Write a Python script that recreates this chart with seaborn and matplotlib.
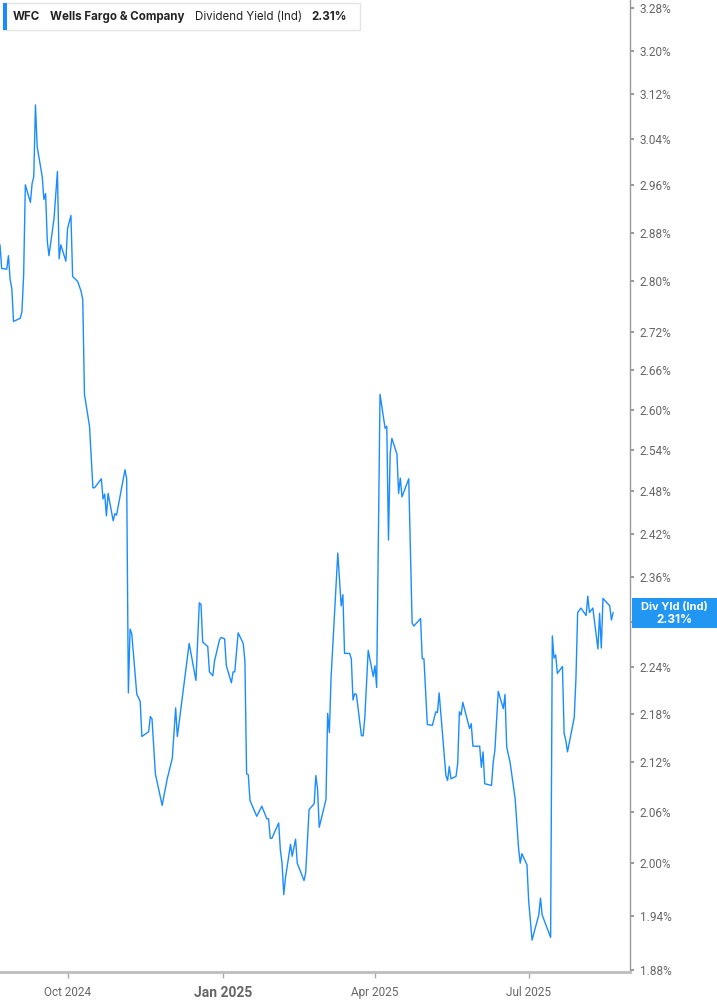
import matplotlib
matplotlib.use("Agg")
import matplotlib.pyplot as plt
from matplotlib import font_manager
from matplotlib.patches import Rectangle
from matplotlib.ticker import FixedLocator, FixedFormatter, NullLocator
import pandas as pd
import seaborn as sns

# WFC indicated dividend yield (%)
dates = [
    "2024-08-22", "2024-08-23", "2024-08-26", "2024-08-27", "2024-08-28", "2024-08-29", "2024-08-30",
    "2024-09-03", "2024-09-04", "2024-09-05", "2024-09-06", "2024-09-09", "2024-09-10", "2024-09-11",
    "2024-09-12", "2024-09-13", "2024-09-16", "2024-09-17", "2024-09-18", "2024-09-19", "2024-09-20",
    "2024-09-23", "2024-09-25", "2024-09-26", "2024-09-27", "2024-09-30", "2024-10-01", "2024-10-03",
    "2024-10-04", "2024-10-07", "2024-10-09", "2024-10-10", "2024-10-11", "2024-10-14", "2024-10-16",
    "2024-10-17", "2024-10-21", "2024-10-22", "2024-10-23", "2024-10-24", "2024-10-25", "2024-10-28",
    "2024-10-29", "2024-10-30", "2024-11-04", "2024-11-05", "2024-11-06", "2024-11-07", "2024-11-08",
    "2024-11-11", "2024-11-12", "2024-11-13", "2024-11-14", "2024-11-18", "2024-11-19", "2024-11-20",
    "2024-11-22", "2024-11-26", "2024-11-29", "2024-12-02", "2024-12-04", "2024-12-05", "2024-12-09",
    "2024-12-12", "2024-12-16", "2024-12-18", "2024-12-19", "2024-12-20", "2024-12-23", "2024-12-24",
    "2024-12-26", "2024-12-27", "2024-12-30", "2024-12-31", "2025-01-02", "2025-01-03", "2025-01-06",
    "2025-01-07", "2025-01-08", "2025-01-10", "2025-01-13", "2025-01-14", "2025-01-15", "2025-01-16",
    "2025-01-17", "2025-01-21", "2025-01-24", "2025-01-27", "2025-01-28", "2025-01-29", "2025-01-30",
    "2025-02-03", "2025-02-04", "2025-02-05", "2025-02-06", "2025-02-07", "2025-02-10", "2025-02-11",
    "2025-02-13", "2025-02-14", "2025-02-18", "2025-02-19", "2025-02-21", "2025-02-24", "2025-02-25",
    "2025-02-26", "2025-02-27", "2025-03-03", "2025-03-04", "2025-03-05", "2025-03-06", "2025-03-10",
    "2025-03-12", "2025-03-13", "2025-03-14", "2025-03-17", "2025-03-18", "2025-03-19", "2025-03-20",
    "2025-03-21", "2025-03-24", "2025-03-25", "2025-03-26", "2025-03-28", "2025-03-31", "2025-04-01",
    "2025-04-02", "2025-04-04", "2025-04-07", "2025-04-08", "2025-04-09", "2025-04-10", "2025-04-11",
    "2025-04-14", "2025-04-15", "2025-04-16", "2025-04-17", "2025-04-21", "2025-04-23", "2025-04-24",
    "2025-04-28", "2025-04-29", "2025-04-30", "2025-05-02", "2025-05-05", "2025-05-07", "2025-05-08",
    "2025-05-09", "2025-05-13", "2025-05-14", "2025-05-15", "2025-05-16", "2025-05-19", "2025-05-20",
    "2025-05-21", "2025-05-22", "2025-05-23", "2025-05-27", "2025-05-28", "2025-05-29", "2025-06-02",
    "2025-06-03", "2025-06-04", "2025-06-05", "2025-06-09", "2025-06-10", "2025-06-11", "2025-06-13",
    "2025-06-16", "2025-06-17", "2025-06-18", "2025-06-20", "2025-06-23", "2025-06-25", "2025-06-26",
    "2025-06-27", "2025-06-30", "2025-07-01", "2025-07-03", "2025-07-07", "2025-07-08", "2025-07-09",
    "2025-07-14", "2025-07-15", "2025-07-16", "2025-07-17", "2025-07-18", "2025-07-21", "2025-07-22",
    "2025-07-23", "2025-07-24", "2025-07-28", "2025-07-29", "2025-07-30", "2025-08-01", "2025-08-04",
    "2025-08-05", "2025-08-06", "2025-08-08", "2025-08-11", "2025-08-12", "2025-08-13", "2025-08-14",
    "2025-08-18", "2025-08-19", "2025-08-20",
]
div_yield = [
    2.860, 2.821, 2.820, 2.842, 2.803, 2.789, 2.736,
    2.741, 2.752, 2.811, 2.961, 2.931, 2.963, 2.975,
    3.101, 3.027, 2.975, 2.936, 2.946, 2.866, 2.842,
    2.904, 2.984, 2.837, 2.860, 2.833, 2.887, 2.909,
    2.808, 2.800, 2.784, 2.771, 2.623, 2.575, 2.485,
    2.485, 2.498, 2.469, 2.476, 2.445, 2.477, 2.438,
    2.448, 2.446, 2.511, 2.498, 2.207, 2.290, 2.284,
    2.205, 2.201, 2.196, 2.152, 2.158, 2.177, 2.174,
    2.106, 2.068, 2.100, 2.125, 2.188, 2.152, 2.219,
    2.271, 2.223, 2.325, 2.323, 2.273, 2.267, 2.234,
    2.229, 2.248, 2.276, 2.279, 2.277, 2.242, 2.220,
    2.234, 2.234, 2.285, 2.271, 2.248, 2.106, 2.105,
    2.074, 2.055, 2.067, 2.052, 2.052, 2.029, 2.029,
    2.047, 2.015, 2.000, 1.964, 1.983, 2.022, 2.008,
    2.028, 2.000, 1.980, 1.989, 2.063, 2.070, 2.104,
    2.088, 2.042, 2.075, 2.181, 2.157, 2.226, 2.393,
    2.321, 2.336, 2.258, 2.258, 2.251, 2.198, 2.206,
    2.205, 2.153, 2.153, 2.176, 2.262, 2.228, 2.242,
    2.214, 2.623, 2.572, 2.575, 2.411, 2.535, 2.557,
    2.534, 2.477, 2.499, 2.472, 2.498, 2.298, 2.294,
    2.304, 2.251, 2.251, 2.167, 2.166, 2.183, 2.182,
    2.207, 2.104, 2.098, 2.115, 2.100, 2.103, 2.119,
    2.183, 2.179, 2.195, 2.162, 2.168, 2.140, 2.140,
    2.114, 2.133, 2.094, 2.092, 2.120, 2.135, 2.209,
    2.187, 2.205, 2.139, 2.120, 2.076, 2.018, 2.000,
    2.011, 1.998, 1.957, 1.913, 1.941, 1.960, 1.941,
    1.916, 2.281, 2.252, 2.256, 2.232, 2.241, 2.156,
    2.147, 2.133, 2.176, 2.226, 2.312, 2.318, 2.308,
    2.334, 2.312, 2.318, 2.264, 2.311, 2.265, 2.331,
    2.321, 2.302, 2.312,
]

y_ticks = [1.88, 1.94, 2.00, 2.06, 2.12, 2.18, 2.24, 2.30, 2.36, 2.42, 2.48,
           2.54, 2.60, 2.66, 2.72, 2.80, 2.88, 2.96, 3.04, 3.12, 3.20, 3.28]
x_ticks = ["2024-10-01", "2025-01-01", "2025-04-01", "2025-07-01"]
x_labels = ["Oct 2024", "Jan 2025", "Apr 2025", "Jul 2025"]

line_blue = "#1a8cff"
W, H = 717, 1005

df = pd.DataFrame({"date": pd.to_datetime(dates), "yield": div_yield})

sns.set_theme(style="white")
plt.rcParams["font.family"] = ["Inter", "DejaVu Sans"]

names = {f.name for f in font_manager.fontManager.ttflist}
tick_font = "Liberation Sans Narrow" if "Liberation Sans Narrow" in names else "Roboto"

fig = plt.figure(figsize=(W / 100, H / 100), dpi=100)
ax = fig.add_axes([0, 33 / H, 630 / W, 972 / H])

sns.lineplot(data=df, x="date", y="yield", ax=ax, color=line_blue, linewidth=1.0)

ax.set_yscale("log")
ax.set_ylim(1.878, 3.295)
ax.set_xlim(pd.Timestamp("2024-08-22"), pd.Timestamp("2025-08-30"))
ax.set_xlabel("")
ax.set_ylabel("")

# the 2.30% label sits under the last-value tag, so leave it blank
last = div_yield[-1]
y_labels = ["" if abs(t - last) < 0.03 else f"{t:.2f}%" for t in y_ticks]
ax.yaxis.tick_right()
ax.yaxis.set_major_locator(FixedLocator(y_ticks))
ax.yaxis.set_major_formatter(FixedFormatter(y_labels))
ax.yaxis.set_minor_locator(NullLocator())
ax.tick_params(axis="y", which="major", right=True, left=False, length=3, width=1.2,
               color="#888888", labelcolor="#666666", labelsize=8.5, pad=4)

ax.set_xticks(pd.to_datetime(x_ticks))
ax.set_xticklabels(x_labels)
ax.tick_params(axis="x", bottom=True, length=4, width=1, color="#aaaaaa",
               labelcolor="#666666", labelsize=8.5, pad=6)
for lbl in ax.get_yticklabels() + ax.get_xticklabels():
    lbl.set_family([tick_font, "DejaVu Sans"])
jan = ax.get_xticklabels()[1]
jan.set_fontweight("bold")
jan.set_fontsize(10)

for side in ["left", "top"]:
    ax.spines[side].set_visible(False)
ax.spines["right"].set_color("#9a9a9a")
ax.spines["right"].set_linewidth(1)
ax.spines["bottom"].set_color("#bdbdbd")
ax.spines["bottom"].set_linewidth(2)

# header box top-left
fig.patches.append(Rectangle((3 / W, 1 - 30 / H), 357 / W, 27 / H, transform=fig.transFigure,
                             facecolor="white", edgecolor="#e4e4e4", linewidth=1, zorder=5))
fig.patches.append(Rectangle((3 / W, 1 - 30 / H), 4 / W, 27 / H, transform=fig.transFigure,
                             facecolor=line_blue, edgecolor="none", zorder=6))
renderer = fig.canvas.get_renderer()
header = [("WFC", "bold"), ("Wells Fargo & Company", "bold"),
          ("Dividend Yield (Ind)", "normal"), (f"{last:.2f}%", "bold")]
ty = 1 - 17 / H
hx = 13
for txt, weight in header:
    t = fig.text(hx / W, ty, txt, fontsize=8.3, fontweight=weight, color="#222222",
                 va="center", zorder=7)
    hx = t.get_window_extent(renderer).x1 + 10

# last-value tag on the right axis
y_disp = ax.transData.transform((ax.get_xlim()[0], last))[1]
yc = y_disp / fig.bbox.height
fig.patches.append(Rectangle((632 / W, yc - 15 / H), 85 / W, 30 / H, transform=fig.transFigure,
                             facecolor="#2196f3", edgecolor="none", zorder=8))
fig.text(674 / W, yc + 6 / H, "Div Yld (Ind)", fontsize=8, fontweight="bold", color="white",
         ha="center", va="center", zorder=9)
fig.text(674 / W, yc - 7 / H, f"{last:.2f}%", fontsize=8.5, fontweight="bold",
         color="white", ha="center", va="center", zorder=9)

fig.savefig("out.png", dpi=100)
